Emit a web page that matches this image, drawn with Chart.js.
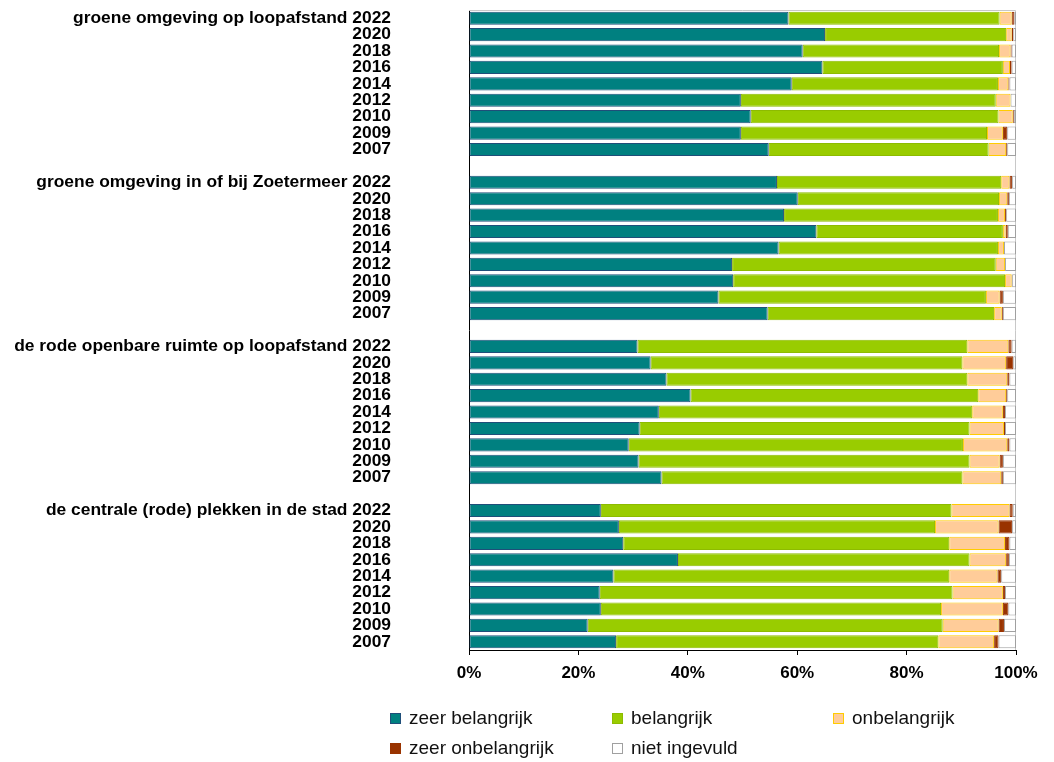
<!DOCTYPE html>
<html>
<head>
<meta charset="utf-8">
<script src="https://cdn.jsdelivr.net/npm/chart.js@4/dist/chart.umd.min.js"></script>
<style>
  body { margin: 0; background: #fff; }
  #wrap { position: relative; width: 1054px; height: 762px; }
  #legend { position: absolute; left: 0; top: 0; font-family: 'Liberation Sans', Arial, sans-serif; font-size: 19px; color: #111; }
  .item { position: absolute; white-space: nowrap; line-height: 20px; }
  .box { position: absolute; left: 0; top: 5px; width: 9px; height: 9px; border: 1px solid; }
  .item span { position: absolute; left: 19px; top: 0; }
</style>
</head>
<body>
<div id="wrap">
  <canvas id="graph" width="1054" height="762"></canvas>
  <div id="legend"></div>
</div>
<script>
'use strict';

// groepen en jaren
let groups = ['groene omgeving op loopafstand', 'groene omgeving in of bij Zoetermeer',
  'de rode openbare ruimte op loopafstand', 'de centrale (rode) plekken in de stad'];
let years = ['2022', '2020', '2018', '2016', '2014', '2012', '2010', '2009', '2007'];

let seriesNames = ['zeer belangrijk', 'belangrijk', 'onbelangrijk', 'zeer onbelangrijk', 'niet ingevuld'];

// percentages per groep, in volgorde van years
let zeerBelangrijk = [
  58.4, 65.1, 61.0, 64.6, 59.0, 49.7, 51.5, 49.7, 54.8,
  56.3, 60.1, 57.6, 63.5, 56.6, 48.1, 48.3, 45.6, 54.6,
  30.8, 33.2, 36.1, 40.5, 34.7, 31.2, 29.2, 31.0, 35.2,
  24.1, 27.4, 28.2, 38.2, 26.4, 23.9, 24.1, 21.7, 26.9
];
let belangrijk = [
  38.6, 33.1, 35.9, 33.0, 37.7, 46.6, 45.3, 45.0, 40.2,
  41.0, 36.8, 39.1, 34.1, 40.1, 48.2, 49.7, 48.9, 41.4,
  60.3, 57.0, 55.0, 52.6, 57.3, 60.3, 61.1, 60.5, 55.0,
  64.1, 57.8, 59.6, 53.3, 61.4, 64.5, 62.2, 64.9, 58.9
];
let onbelangrijk = [
  2.2, 1.0, 2.1, 1.3, 1.9, 2.7, 2.6, 2.9, 3.2,
  1.5, 1.5, 1.3, 0.5, 1.1, 1.7, 1.2, 2.5, 1.4,
  7.5, 8.0, 7.3, 5.1, 5.6, 6.3, 8.1, 5.5, 7.1,
  10.6, 11.6, 10.2, 6.7, 8.8, 9.2, 11.3, 10.2, 10.2
];
let zeerOnbelangrijk = [
  0.5, 0.3, 0.2, 0.3, 0.2, 0.0, 0.2, 0.8, 0.2,
  0.5, 0.3, 0.2, 0.4, 0.0, 0.0, 0.1, 0.6, 0.2,
  0.6, 1.3, 0.4, 0.2, 0.4, 0.2, 0.4, 0.6, 0.3,
  0.6, 2.5, 0.8, 0.5, 0.7, 0.4, 1.0, 1.0, 0.8
];
let nietIngevuld = [
  0.3, 0.5, 0.8, 0.8, 1.2, 1.0, 0.4, 1.6, 1.6,
  0.7, 1.3, 1.8, 1.5, 2.2, 2.0, 0.7, 2.4, 2.4,
  0.8, 0.5, 1.2, 1.6, 2.0, 2.0, 1.2, 2.4, 2.4,
  0.6, 0.7, 1.2, 1.3, 2.7, 2.0, 1.4, 2.2, 3.2
];

let xTicks = [0, 20, 40, 60, 80, 100];

let fillColors = ['#008080', '#99CC00', '#FFCC99', '#993300', '#FFFFFF'];
let edgeColors = ['#1F4E79', '#8DBB00', '#FFCC00', '#993300', '#A0A0A0'];

// labels met een lege regel tussen de groepen
let labels = [];
for (let g = 0; g < groups.length; g++) {
  for (let y = 0; y < years.length; y++) {
    labels.push(y === 0 ? groups[g] + ' ' + years[y] : years[y]);
  }
  if (g < groups.length - 1) labels.push('');
}

// data met null voor de lege regels
function withGaps(values) {
  let out = [];
  for (let g = 0; g < groups.length; g++) {
    for (let y = 0; y < years.length; y++) {
      out.push(values[g * years.length + y]);
    }
    if (g < groups.length - 1) out.push(null);
  }
  return out;
}

let allSeries = [zeerBelangrijk, belangrijk, onbelangrijk, zeerOnbelangrijk, nietIngevuld];
let datasets = allSeries.map(function(values, i) {
  return {
    label: seriesNames[i],
    data: withGaps(values),
    backgroundColor: fillColors[i],
    borderColor: edgeColors[i],
    borderWidth: 1,
    borderSkipped: false,
    barPercentage: 0.8,
    categoryPercentage: 1.0
  };
});

// lichtgrijze rand boven en rechts van het plotvlak
let plotFrame = {
  id: 'plotFrame',
  beforeDatasetsDraw(chart) {
    let a = chart.chartArea;
    let ctx = chart.ctx;
    ctx.save();
    ctx.strokeStyle = '#C8C8C8';
    ctx.lineWidth = 1;
    ctx.beginPath();
    ctx.moveTo(a.left, a.top + 0.5);
    ctx.lineTo(a.right - 0.5, a.top + 0.5);
    ctx.lineTo(a.right - 0.5, a.bottom);
    ctx.stroke();
    ctx.restore();
  }
};

let font = "'Liberation Sans', Arial, sans-serif";

let chart = new Chart(document.querySelector('#graph').getContext('2d'), {
  type: 'bar',
  data: { labels: labels, datasets: datasets },
  options: {
    indexAxis: 'y',
    responsive: false,
    animation: false,
    layout: { padding: { top: 10, right: 38, bottom: 72, left: 0 } },
    plugins: { legend: { display: false }, tooltip: { enabled: false } },
    scales: {
      y: {
        stacked: true,
        grid: { display: false },
        border: { display: true, color: '#000', width: 1 },
        afterFit: function(scale) {
          scale.width = 469;
          // tick padding niet boven/onder laten meetellen
          scale.paddingTop = 0;
          scale.paddingBottom = 0;
        },
        ticks: {
          autoSkip: false,
          padding: 70,
          color: '#000',
          font: { family: font, size: 17.4, weight: 'bold' }
        }
      },
      x: {
        stacked: true,
        min: 0,
        max: 100,
        afterFit: function(scale) { scale.height = 40; },
        afterBuildTicks: function(scale) {
          scale.ticks = xTicks.map(function(v) { return { value: v }; });
        },
        grid: { drawOnChartArea: false, drawTicks: true, tickLength: 5, color: '#000' },
        border: { display: true, color: '#000', width: 1 },
        ticks: {
          padding: 8,
          color: '#000',
          font: { family: font, size: 17, weight: 'bold' },
          callback: function(v) { return v + '%'; }
        }
      }
    }
  },
  plugins: [plotFrame]
});

// legenda in twee rijen
let legendPos = [[390, 708], [612, 708], [833, 708], [390, 738], [612, 738]];
let legendHtml = '';
for (let i = 0; i < seriesNames.length; i++) {
  legendHtml += '<div class="item" style="left:' + legendPos[i][0] + 'px;top:' + legendPos[i][1] + 'px">' +
    '<div class="box" style="background:' + fillColors[i] + ';border-color:' + edgeColors[i] + '"></div>' +
    '<span>' + seriesNames[i] + '</span></div>';
}
document.querySelector('#legend').innerHTML = legendHtml;
</script>
</body>
</html>
